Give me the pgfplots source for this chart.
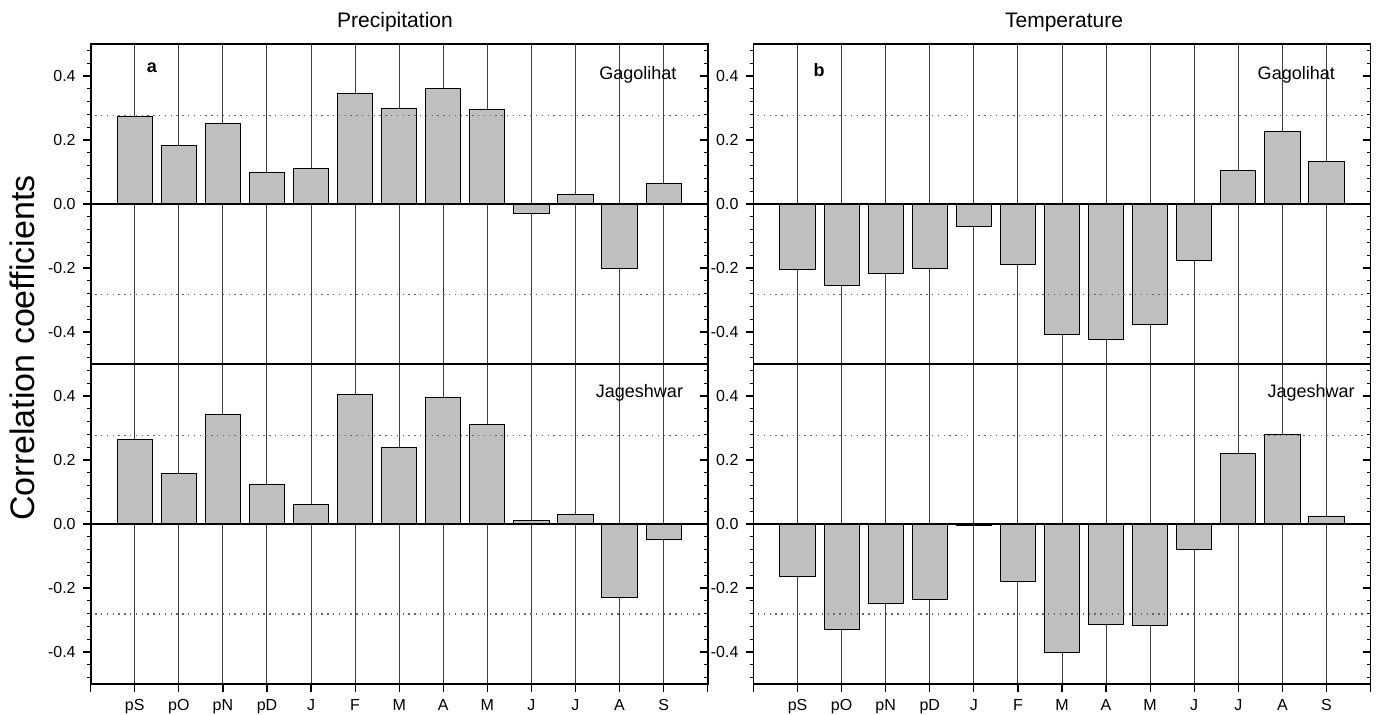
\documentclass[border=0pt]{standalone}
\usepackage{fontspec}
\setmainfont{Liberation Sans}
\usepackage{pgfplots}
\pgfplotsset{compat=1.18}

\pgfplotsset{
  panel/.style={
    scale only axis, width=308.5pt, height=160pt,
    xmin=-1, xmax=13, ymin=-0.5, ymax=0.5,
    xtick={-1,0,...,13},
    ytick={-0.4,-0.2,0,0.2,0.4},
    minor ytick={-0.48,-0.44,...,0.49},
    tick align=outside,
    major tick length=4pt, minor tick length=2pt,
    xtick pos=bottom, ytick pos=left,
    axis line style={line width=0.9pt},
    tick style={black, line width=0.6pt},
    xmajorgrids,
    major grid style={black!75, line width=0.5pt},
    /pgf/number format/fixed,
    /pgf/number format/fixed zerofill,
    /pgf/number format/precision=1,
    /pgf/number format/assume math mode=true,
    tick label style={font=\fontsize{8}{9}\selectfont},
  },
  toppanel/.style={panel, xticklabels={},
    every major x tick/.append style={draw=none}},
  rticks/.style={panel, ytick pos=right, tick align=inside,
    xtick=\empty, yticklabels={}, xmajorgrids=false},
  bars/.style={ybar, bar width=0.8, fill=gray!50, draw=black, line width=0.5pt},
}
\tikzset{
  sig/.style={black!60, line width=0.6pt, dash pattern=on 0.7pt off 2.2pt},
  site/.style={anchor=east, font=\fontsize{9}{10}\selectfont},
}

\begin{document}
\begin{tikzpicture}
\useasboundingbox (0,0) rectangle (690.5pt,357pt);

% precipitation, Gagolihat
\begin{axis}[toppanel, at={(45.35pt,175pt)}, anchor=south west]
  \addplot[bars] coordinates {
    (0,0.273) (1,0.182) (2,0.250) (3,0.099) (4,0.110) (5,0.345) (6,0.298)
    (7,0.362) (8,0.295) (9,-0.031) (10,0.031) (11,-0.201) (12,0.063)};
  \draw[sig] (axis cs:-0.9,0.276) -- (axis cs:12.9,0.276);
  \draw[sig] (axis cs:-0.9,-0.282) -- (axis cs:12.9,-0.282);
  \draw[line width=0.9pt] (axis cs:-1,0) -- (axis cs:13,0);
  \node[site] at (axis cs:12.45,0.405) {Gagolihat};
  \node[font=\bfseries\fontsize{9}{10}\selectfont] at (axis cs:0.39,0.425) {a};
\end{axis}
\begin{axis}[rticks, at={(45.35pt,175pt)}, anchor=south west]
\end{axis}

% precipitation, Jageshwar
\begin{axis}[panel, at={(45.35pt,15pt)}, anchor=south west,
    xticklabels={,pS,pO,pN,pD,J,F,M,A,M,J,J,A,S,}]
  \addplot[bars] coordinates {
    (0,0.263) (1,0.159) (2,0.341) (3,0.122) (4,0.061) (5,0.405) (6,0.240)
    (7,0.394) (8,0.310) (9,0.010) (10,0.030) (11,-0.229) (12,-0.049)};
  \draw[sig] (axis cs:-0.9,0.277) -- (axis cs:12.9,0.277);
  \draw[sig] (axis cs:-0.9,-0.281) -- (axis cs:12.9,-0.281);
  \draw[line width=0.9pt] (axis cs:-1,0) -- (axis cs:13,0);
  \node[site] at (axis cs:12.6,0.41) {Jageshwar};
\end{axis}
\begin{axis}[rticks, at={(45.35pt,15pt)}, anchor=south west]
\end{axis}

% temperature, Gagolihat
\begin{axis}[toppanel, at={(376.75pt,175pt)}, anchor=south west]
  \addplot[bars] coordinates {
    (0,-0.206) (1,-0.256) (2,-0.217) (3,-0.203) (4,-0.069) (5,-0.190) (6,-0.407)
    (7,-0.422) (8,-0.376) (9,-0.177) (10,0.104) (11,0.225) (12,0.132)};
  \draw[sig] (axis cs:-0.9,0.276) -- (axis cs:12.9,0.276);
  \draw[sig] (axis cs:-0.9,-0.282) -- (axis cs:12.9,-0.282);
  \draw[line width=0.9pt] (axis cs:-1,0) -- (axis cs:13,0);
  \node[site] at (axis cs:12.35,0.405) {Gagolihat};
  \node[font=\bfseries\fontsize{9}{10}\selectfont] at (axis cs:0.49,0.42) {b};
\end{axis}
\begin{axis}[rticks, at={(376.75pt,175pt)}, anchor=south west]
\end{axis}

% temperature, Jageshwar
\begin{axis}[panel, at={(376.75pt,15pt)}, anchor=south west,
    xticklabels={,pS,pO,pN,pD,J,F,M,A,M,J,J,A,S,}]
  \addplot[bars] coordinates {
    (0,-0.163) (1,-0.331) (2,-0.247) (3,-0.236) (4,-0.006) (5,-0.180) (6,-0.401)
    (7,-0.315) (8,-0.318) (9,-0.079) (10,0.221) (11,0.279) (12,0.022)};
  \draw[sig] (axis cs:-0.9,0.277) -- (axis cs:12.9,0.277);
  \draw[sig] (axis cs:-0.9,-0.281) -- (axis cs:12.9,-0.281);
  \draw[line width=0.9pt] (axis cs:-1,0) -- (axis cs:13,0);
  \node[site] at (axis cs:12.8,0.41) {Jageshwar};
\end{axis}
\begin{axis}[rticks, at={(376.75pt,15pt)}, anchor=south west]
\end{axis}

\node[font=\fontsize{10.5}{12}\selectfont] at (197.5pt,346pt) {Precipitation};
\node[font=\fontsize{10.5}{12}\selectfont] at (532pt,346pt) {Temperature};
\node[rotate=90, font=\fontsize{17}{20}\selectfont] at (11pt,183pt) {Correlation coefficients};
\end{tikzpicture}
\end{document}
